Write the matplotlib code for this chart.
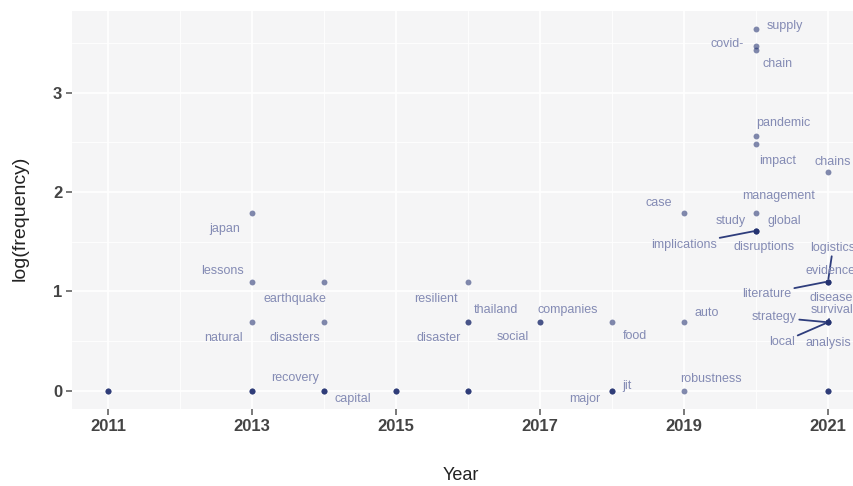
import matplotlib
matplotlib.use('Agg')
import matplotlib.pyplot as plt
from matplotlib.ticker import MultipleLocator

# labelled terms: word, year, log(frequency)
terms = ['japan', 'lessons', 'natural', 'recovery', 'earthquake', 'disasters', 'capital',
         'resilient', 'disaster', 'thailand', 'companies', 'social', 'food', 'major', 'jit',
         'case', 'auto', 'robustness', 'supply', 'covid-', 'chain', 'pandemic', 'impact',
         'chains', 'management', 'study', 'global', 'implications', 'disruptions',
         'logistics', 'evidence', 'literature', 'disease', 'survival', 'strategy', 'local',
         'analysis']
term_year = [2013, 2013, 2013, 2013, 2014, 2014, 2014,
             2016, 2016, 2016, 2017, 2017, 2018, 2018, 2018,
             2019, 2019, 2019, 2020, 2020, 2020, 2020, 2020,
             2021, 2020, 2020, 2020, 2020, 2020,
             2021, 2021, 2021, 2021, 2021, 2021, 2021,
             2021]
term_logfreq = [1.79, 1.10, 0.69, 0.0, 1.10, 0.69, 0.0,
                1.10, 0.69, 0.69, 0.69, 0.69, 0.69, 0.0, 0.0,
                1.79, 0.69, 0.0, 3.64, 3.43, 3.47, 2.56, 2.48,
                2.20, 1.79, 1.61, 1.61, 1.61, 1.61,
                1.10, 1.10, 1.10, 1.10, 0.69, 0.69, 0.69,
                0.69]

# terms without a label (single occurrences)
other_year = [2011, 2011, 2011, 2013, 2013, 2014, 2014, 2015, 2015, 2015,
              2016, 2016, 2016, 2018, 2021, 2021, 2021]
other_logfreq = [0.0] * 17

year_ticks = [2011, 2013, 2015, 2017, 2019, 2021]

# label placement (pixels from the point), like ggrepel did it
label_offsets = {
    'japan': (-27, -16), 'lessons': (-29, 11), 'natural': (-29, -16),
    'recovery': (43, 13), 'earthquake': (-29, -17), 'disasters': (-29, -16),
    'capital': (29, -8), 'resilient': (-32, -17), 'disaster': (-29, -16),
    'thailand': (28, 12), 'companies': (28, 12), 'social': (-27, -15),
    'food': (23, -14), 'major': (-27, -8), 'jit': (15, 5), 'auto': (23, 9),
    'robustness': (27, 12), 'case': (-25, 10), 'supply': (29, 3),
    'covid-': (-29, 6), 'chain': (22, -18), 'pandemic': (27, 13),
    'impact': (22, -17), 'chains': (5, 10), 'management': (23, 17),
    'study': (-25, 10), 'global': (28, 10), 'implications': (-72, -14),
    'disruptions': (8, -16), 'logistics': (5, 34), 'evidence': (2, 11),
    'literature': (-61, -12), 'disease': (3, -16), 'survival': (4, 12),
    'strategy': (-54, 5), 'local': (-46, -20), 'analysis': (0, -21),
}
leaders = ['implications', 'logistics', 'literature', 'survival', 'strategy', 'local']

sans = ['Liberation Sans', 'DejaVu Sans']
plt.rcParams['font.family'] = sans

fig = plt.figure(figsize=(8.54, 4.86), dpi=100)
ax = fig.add_axes([72 / 854, 77 / 486, 792 / 854, 398 / 486])
ax.set_facecolor('#F5F5F6')
for s in ax.spines.values():
    s.set_visible(False)

ax.set_xlim(2010.5, 2021.5)
ax.set_ylim(-0.182, 3.82)
ax.set_xticks(year_ticks)
ax.xaxis.set_minor_locator(MultipleLocator(1))
ax.yaxis.set_major_locator(MultipleLocator(1))
ax.yaxis.set_minor_locator(MultipleLocator(0.5))
ax.grid(True, which='major', color='white', lw=1.2)
ax.grid(True, which='minor', color='white', lw=0.6)
ax.set_axisbelow(True)
ax.tick_params(which='minor', length=0)
ax.tick_params(which='major', length=4, width=1.1, color='#555555',
               labelsize=12, labelcolor='#444444', pad=3)
for lab in ax.get_xticklabels() + ax.get_yticklabels():
    lab.set_fontweight('bold')

# points, overlapping ones get darker
ax.scatter(other_year, other_logfreq, s=18, color='#1C2B6C', alpha=0.55, lw=0, zorder=3)
ax.scatter(term_year, term_logfreq, s=18, color='#1C2B6C', alpha=0.55, lw=0, zorder=3)

for t, x, y in zip(terms, term_year, term_logfreq):
    dx, dy = label_offsets[t]
    arrow = None
    if t in leaders:
        arrow = dict(arrowstyle='-', color='#2E3D7C', lw=1.3, shrinkA=0, shrinkB=2)
    ax.annotate(t, xy=(x, y), xytext=(dx, dy), textcoords='offset pixels',
                ha='center', va='center', fontsize=9, color='#848BB4',
                arrowprops=arrow, annotation_clip=False, zorder=4)

ax.set_xlabel('Year', fontsize=13, color='#222222')
ax.xaxis.set_label_coords(0.491, -0.166)
ax.xaxis.label.set_va('center')
ax.set_ylabel('log(frequency)', fontsize=14, color='#222222')
ax.yaxis.set_label_coords(-0.066, 0.48)
ax.yaxis.label.set_va('center')

fig.savefig('out.png', dpi=100)
